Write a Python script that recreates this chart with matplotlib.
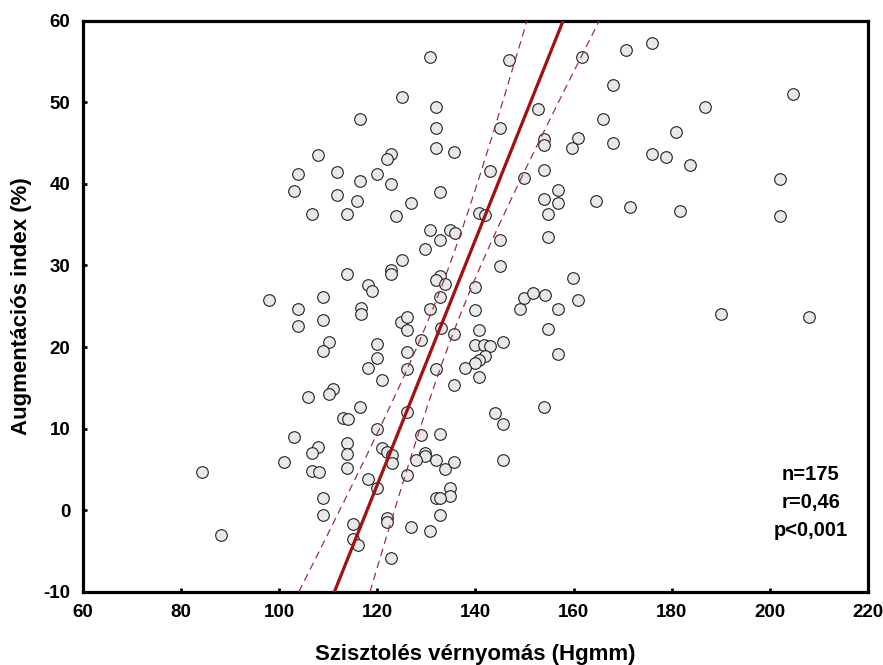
import numpy as np
import matplotlib.pyplot as plt

# Systolic blood pressure (Hgmm) and augmentation index (%)
sbp = [116.4, 108.0, 103.9, 111.7, 116.5, 103.1, 111.7, 115.8, 106.7, 113.9,
       113.9, 98.0, 108.9, 103.9, 103.9, 108.9, 116.7, 116.7, 110.1, 108.9,
       110.9, 110.1, 105.9, 116.4, 113.0, 114.0, 103.0, 107.9, 106.7, 113.9,
       113.9, 100.9, 106.7, 108.1, 113.9, 84.2, 108.9, 108.9, 88.2, 115.1,
       115.1, 116.0, 130.8, 146.9, 161.7, 170.7, 168.0, 125.0, 152.8, 132.0,
       132.0, 144.9, 166.0, 153.9, 153.9, 160.9, 159.7, 168.0, 132.0, 135.7,
       122.8, 122.0, 120.0, 122.8, 142.9, 153.9, 149.9, 156.9, 153.9, 156.9,
       164.6, 171.4, 132.8, 126.9, 140.8, 142.0, 123.8, 154.8, 154.8, 130.8,
       134.9, 135.9, 132.8, 144.9, 129.8, 125.0, 144.9, 122.8, 122.8, 132.8,
       131.9, 133.8, 118.1, 119.0, 139.8, 132.8, 130.8, 139.8, 159.8, 149.9,
       151.8, 154.1, 149.0, 160.9, 156.9, 154.8, 156.9, 124.9, 126.0, 126.0,
       132.9, 135.7, 140.7, 128.9, 120.0, 120.0, 118.1, 120.9, 126.0, 126.0,
       132.0, 139.8, 141.8, 142.9, 145.7, 142.0, 140.8, 139.8, 137.8, 140.7,
       135.7, 126.0, 120.0, 144.0, 145.7, 153.9, 128.8, 132.8, 120.9, 122.0,
       123.0, 123.0, 129.8, 129.8, 127.9, 132.0, 133.8, 135.7, 145.7, 118.1,
       120.0, 126.0, 134.9, 134.9, 131.9, 132.8, 132.8, 122.0, 122.0, 126.9,
       130.8, 122.8, 175.9, 204.8, 186.8, 180.9, 175.9, 178.9, 183.8, 202.0,
       181.7, 202.0, 190.0, 207.9]
aix = [47.9, 43.5, 41.2, 41.4, 40.4, 39.1, 38.6, 37.9, 36.3, 36.3,
       29.0, 25.8, 26.1, 24.7, 22.6, 23.3, 24.8, 24.0, 20.6, 19.5,
       14.8, 14.2, 13.9, 12.7, 11.3, 11.2, 9.0, 7.8, 7.0, 8.3,
       6.9, 5.9, 4.8, 4.7, 5.2, 4.7, 1.5, -0.6, -3.0, -1.7,
       -3.5, -4.2, 55.5, 55.2, 55.5, 56.4, 52.1, 50.6, 49.2, 49.4,
       46.9, 46.9, 47.9, 45.5, 44.8, 45.6, 44.4, 45.0, 44.4, 43.9,
       43.6, 43.0, 41.2, 40.0, 41.6, 41.7, 40.7, 39.3, 38.1, 37.7,
       37.9, 37.2, 39.0, 37.6, 36.4, 36.2, 36.0, 36.3, 33.5, 34.4,
       34.4, 34.0, 33.1, 33.1, 32.0, 30.7, 29.9, 29.5, 29.0, 28.7,
       28.2, 27.7, 27.6, 26.9, 27.3, 26.1, 24.6, 24.5, 28.4, 26.0,
       26.6, 26.4, 24.7, 25.8, 24.7, 22.2, 19.1, 23.1, 23.7, 22.1,
       22.3, 21.6, 22.1, 20.9, 20.4, 18.7, 17.4, 15.9, 19.4, 17.3,
       17.3, 20.2, 20.3, 20.1, 20.6, 18.9, 18.4, 18.1, 17.4, 16.3,
       15.4, 12.0, 10.0, 11.9, 10.6, 12.7, 9.2, 9.4, 7.6, 7.1,
       6.8, 5.8, 7.0, 6.7, 6.1, 6.1, 5.0, 5.9, 6.1, 3.8,
       2.7, 4.3, 2.7, 1.8, 1.5, 1.5, -0.6, -0.9, -1.5, -2.1,
       -2.5, -5.8, 57.2, 51.0, 49.4, 46.4, 43.7, 43.3, 42.3, 40.6,
       36.7, 36.0, 24.0, 23.7]
stats_text = "n=175\nr=0,46\np<0,001"

x = np.array(sbp)
y = np.array(aix)

# regression of SBP on AIx, drawn with its 95% confidence band
n = len(x)
b, a = np.polyfit(y, x, 1)
resid = x - (a + b * y)
s = np.sqrt(np.sum(resid ** 2) / (n - 2))
syy = np.sum((y - y.mean()) ** 2)
yy = np.linspace(-10, 60, 200)
xx = a + b * yy
half = 1.974 * s * np.sqrt(1 / n + (yy - y.mean()) ** 2 / syy)

plt.rcParams['font.family'] = ['Liberation Sans', 'DejaVu Sans']
plt.rcParams['font.weight'] = 'bold'
plt.rcParams['axes.unicode_minus'] = False

fig = plt.figure(figsize=(8.83, 6.65), dpi=100)
ax = fig.add_axes([0.094, 0.110, 0.889, 0.859])

ax.scatter(x, y, s=70, facecolor='#e8e8e8', edgecolor='#222222', linewidth=0.8, zorder=3)
ax.plot(xx, yy, color='#a50f0f', lw=2.3, zorder=4)
ax.plot(xx - half, yy, color='#a0303a', lw=0.9, ls=(0, (6, 4)), zorder=4)
ax.plot(xx + half, yy, color='#a0303a', lw=0.9, ls=(0, (6, 4)), zorder=4)

ax.text(208.3, 1.0, stats_text, ha='center', va='center', fontsize=14.5,
        fontweight='bold', linespacing=1.6)

ax.set_xlim(60, 220)
ax.set_ylim(-10, 60)
ax.set_xticks(range(60, 221, 20))
ax.set_yticks(range(-10, 61, 10))
ax.tick_params(direction='in', length=3, width=2, labelsize=13.5, pad=9)
for lab in ax.get_xticklabels() + ax.get_yticklabels():
    lab.set_fontweight('bold')
for sp in ax.spines.values():
    sp.set_linewidth(2.3)

ax.set_xlabel('Szisztolés vérnyomás (Hgmm)', fontsize=16, fontweight='bold', labelpad=16)
ax.set_ylabel('Augmentációs index (%)', fontsize=16, fontweight='bold', labelpad=8)

plt.savefig('out.png', dpi=100)
